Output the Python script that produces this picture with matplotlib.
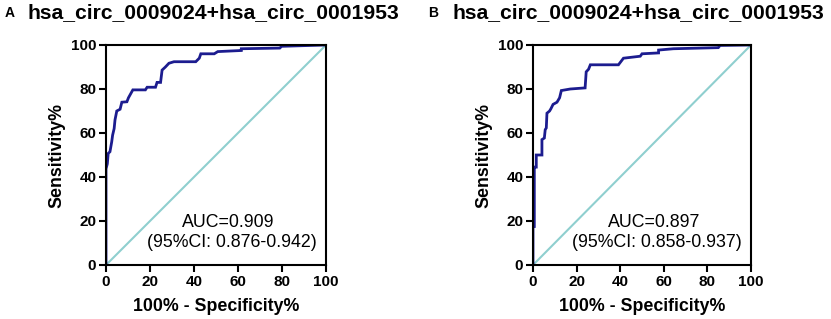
import matplotlib
matplotlib.use("Agg")
import matplotlib.pyplot as plt

plt.rcParams['font.family'] = ['Liberation Sans', 'DejaVu Sans']

# ROC curve A (100% - Specificity%, Sensitivity%)
fpr_a = [0, 0, 0.6, 1.0, 1.8, 2.6, 3.0, 3.7, 4.1, 4.9, 6.4, 7.2, 9.5, 10.2, 12.2, 17.9, 18.7,
         22.5, 23.2, 24.8, 25.5, 27.0, 28.6, 30.9, 40.8, 42.4, 43.1, 49.2, 50.8, 61.5, 61.5,
         79.0, 79.8, 89.7, 100]
tpr_a = [0, 43.7, 46, 50.7, 51.5, 56, 59, 62, 66, 70, 70.8, 74, 74.2, 76, 79.6, 79.6, 80.8,
         80.8, 83, 83, 88.6, 90, 91.7, 92.4, 92.4, 94, 96, 96, 97, 97.5, 98.3,
         98.6, 99.4, 99.7, 100]

# ROC curve B
fpr_b = [0, 0, 0.6, 0.6, 1.5, 1.5, 4.1, 4.1, 5.2, 5.6, 6.1, 6.4, 7.6, 8.2, 9.2, 11.0, 12.2, 13.0,
         17.1, 23.9, 24.4, 25.5, 26.3, 39.2, 41.5, 49.2, 50.0, 57.6, 57.6, 64.4, 85.0, 85.8, 100]
tpr_b = [0, 17.5, 17.5, 44.5, 44.5, 50, 50, 57, 57.7, 61.5, 62.3, 69, 70, 71, 73, 74, 76, 79.3,
         80, 80.5, 87.8, 89, 91, 91, 94, 94.9, 96, 96.4, 97.7, 98.3, 98.8, 99.8, 100]

titles = ["hsa_circ_0009024+hsa_circ_0001953", "hsa_circ_0009024+hsa_circ_0001953"]
panel_letters = ["A", "B"]
auc_texts = ["AUC=0.909", "AUC=0.897"]
ci_texts = ["(95%CI: 0.876-0.942)", "(95%CI: 0.858-0.937)"]
ticks = [0, 20, 40, 60, 80, 100]

fig = plt.figure(figsize=(8.31, 3.19), dpi=100)
W, H = 831, 319
ax_specs = [(106, 326), (533, 751)]
top_px, bot_px = 45, 265

curves = [(fpr_a, tpr_a), (fpr_b, tpr_b)]
for i, ((l, r), (fx, ty)) in enumerate(zip(ax_specs, curves)):
    ax = fig.add_axes([l / W, 1 - bot_px / H, (r - l) / W, (bot_px - top_px) / H])
    ax.plot([0, 100], [0, 100], color='#8fcfcf', lw=1.5, zorder=1)
    ax.plot(fx, ty, color='#1c1c8f', lw=2.0, zorder=2, solid_joinstyle='miter')
    ax.set_xlim(0, 100)
    ax.set_ylim(0, 100)
    ax.set_xticks(ticks)
    ax.set_yticks(ticks)
    ax.set_xticklabels([str(t) for t in ticks], fontsize=11, fontweight='bold')
    ax.set_yticklabels([str(t) for t in ticks], fontsize=11, fontweight='bold')
    ax.tick_params(direction='out', length=5, width=1.5, pad=2)
    for s in ax.spines.values():
        s.set_linewidth(1.5)
    ax.set_xlabel("100% - Specificity%", fontsize=12.8, fontweight='bold', labelpad=7)
    ax.set_ylabel("Sensitivity%", fontsize=12.8, fontweight='bold', labelpad=4)
    ax.text(55.7, 19.5, auc_texts[i], fontsize=12.8, ha='center', va='center')
    ax.text(57, 10.2, ci_texts[i], fontsize=12.8, ha='center', va='center')

fig.text(5 / W, 1 - 13 / H, panel_letters[0], fontsize=10, fontweight='bold', va='center')
fig.text(28 / W, 1 - 13 / H, titles[0], fontsize=15.2, fontweight='bold', va='center')
fig.text(428 / W, 1 - 13 / H, panel_letters[1], fontsize=10, fontweight='bold', va='center')
fig.text(452 / W, 1 - 13 / H, titles[1], fontsize=15.2, fontweight='bold', va='center')

fig.savefig("out.png", dpi=100)
